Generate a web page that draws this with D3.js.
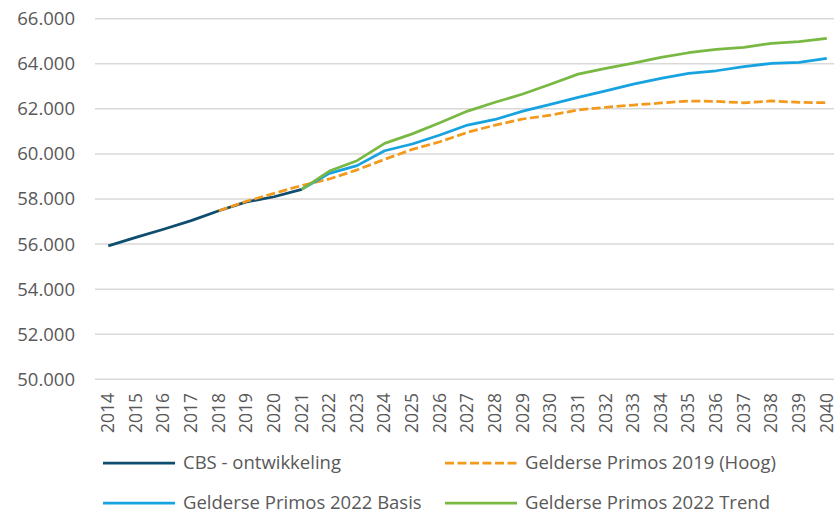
<!DOCTYPE html>
<html><head><meta charset="utf-8">
<script src="https://cdn.jsdelivr.net/npm/d3@7/dist/d3.min.js"></script>
<style>body{margin:0;background:#fff;}svg{display:block;font-family:"Open Sans",sans-serif;}</style>
</head><body><svg id="c" width="834" height="514"></svg>
<script>
const years = d3.range(2014, 2041);
const cbs = [55.92,56.30,56.66,57.04,57.48,57.87,58.10,58.43];
const primos2019 = [57.48,57.90,58.25,58.60,58.89,59.29,59.76,60.20,60.54,60.96,61.28,61.55,61.72,61.95,62.07,62.17,62.26,62.35,62.33,62.27,62.35,62.29,62.27];
const basis2022 = [58.43,59.14,59.48,60.14,60.44,60.84,61.28,61.53,61.90,62.20,62.51,62.80,63.10,63.35,63.57,63.69,63.87,64.02,64.06,64.24];
const trend2022 = [58.43,59.24,59.70,60.47,60.89,61.38,61.90,62.29,62.66,63.09,63.54,63.80,64.03,64.28,64.49,64.64,64.73,64.91,64.98,65.13];
const yTicks = [50,52,54,56,58,60,62,64,66];
const seriesNames = ["CBS - ontwikkeling","Gelderse Primos 2019 (Hoog)","Gelderse Primos 2022 Basis","Gelderse Primos 2022 Trend"];

const series = [
  {name: seriesNames[0], start: 2014, values: cbs, color: "#0f4d6e", dash: null},
  {name: seriesNames[1], start: 2018, values: primos2019, color: "#f39a1d", dash: "9,3.5"},
  {name: seriesNames[2], start: 2021, values: basis2022, color: "#17a2e0", dash: null},
  {name: seriesNames[3], start: 2021, values: trend2022, color: "#78b843", dash: null}
];

const svg = d3.select("#c");
const x = d3.scalePoint().domain(years).range([108.3, 826.8]);
const y = d3.scaleLinear().domain([50, 66]).range([379.3, 18.7]);

// gridlines
svg.append("g").selectAll("line").data(yTicks).join("line")
  .attr("x1", 95).attr("x2", 834)
  .attr("y1", d => y(d)).attr("y2", d => y(d))
  .attr("stroke", "#d9d9d9").attr("stroke-width", 1.5);

// y labels
svg.append("g").selectAll("text").data(yTicks).join("text")
  .attr("x", 75).attr("y", d => y(d)).attr("dy", "0.35em")
  .attr("text-anchor", "end").attr("fill", "#595959").attr("font-size", 18.5)
  .text(d => d3.format(".3f")(d));

// x labels
svg.append("g").selectAll("text").data(years).join("text")
  .attr("transform", d => `translate(${x(d)},393) rotate(-90)`)
  .attr("dy", "0.33em").attr("text-anchor", "end")
  .attr("fill", "#595959").attr("font-size", 17.5)
  .text(d => d);

// lines
const line = d3.line().x(d => x(d.year)).y(d => y(d.v));
series.forEach(s => {
  const pts = s.values.map((v, i) => ({year: s.start + i, v}));
  svg.append("path").datum(pts).attr("d", line)
    .attr("fill", "none").attr("stroke", s.color).attr("stroke-width", 2.75)
    .attr("stroke-linejoin", "round")
    .attr("stroke-dasharray", s.dash);
});

// legend
const legPos = [[103,463],[445,463],[103,503],[445,503]];
series.forEach((s, i) => {
  const [lx, ly] = legPos[i];
  svg.append("line").attr("x1", lx).attr("x2", lx + 72).attr("y1", ly).attr("y2", ly)
    .attr("stroke", s.color).attr("stroke-width", 2.75).attr("stroke-dasharray", s.dash);
  svg.append("text").attr("x", lx + 80).attr("y", ly).attr("dy", "0.35em")
    .attr("fill", "#595959").attr("font-size", 18.5).text(s.name);
});
</script></body></html>
